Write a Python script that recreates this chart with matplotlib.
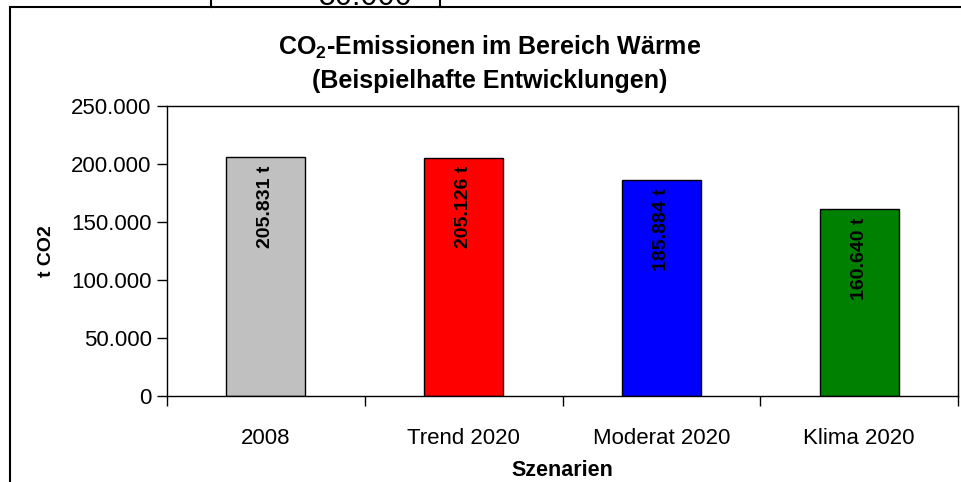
import matplotlib
matplotlib.use("Agg")
import matplotlib.pyplot as plt
from matplotlib.ticker import FuncFormatter, FixedLocator, NullFormatter
from matplotlib.patches import Rectangle
from matplotlib.lines import Line2D

categories = ["2008", "Trend 2020", "Moderat 2020", "Klima 2020"]
values = [205831, 205126, 185884, 160640]
bar_labels = ["205.831 t", "205.126 t", "185.884 t", "160.640 t"]
colors = ["#C0C0C0", "#FF0000", "#0000FF", "#008000"]
yticks = [0, 50000, 100000, 150000, 200000, 250000]

plt.rcParams["font.family"] = ["Liberation Sans", "DejaVu Sans"]
plt.rcParams["mathtext.fontset"] = "custom"
plt.rcParams["mathtext.rm"] = "Liberation Sans"
plt.rcParams["mathtext.bf"] = "Liberation Sans:bold"

W, H = 962, 482
fig = plt.figure(figsize=(W / 100, H / 100), dpi=100)

def fx(px):
    return px / W

def fy(py):
    return 1 - py / H

# outer chart frame (extends beyond right and bottom edges)
fig.patches.append(Rectangle((fx(10), fy(H + 20)), fx(W + 20), fy(7) - fy(H + 20),
                             transform=fig.transFigure, fill=False,
                             edgecolor="black", linewidth=1.5, zorder=0))
# remnant of another chart above
for x in (211, 440):
    fig.lines.append(Line2D([fx(x), fx(x)], [fy(7), 1.05], transform=fig.transFigure,
                            color="black", linewidth=1.5))
fig.text(fx(366), fy(5), "50.000", ha="center", va="baseline", fontsize=22)

ax = fig.add_axes([fx(167), fy(396), fx(958) - fx(167), fy(105.7) - fy(396)])
n = len(categories)
xs = list(range(n))
bars = ax.bar(xs, values, width=0.4, color=colors, edgecolor="black", linewidth=1.0)
for b, lab in zip(bars, bar_labels):
    ax.annotate(lab, xy=(b.get_x() + b.get_width() / 2, b.get_height()),
                xytext=(0, -6), textcoords="offset points",
                rotation=90, ha="center", va="top", fontsize=14, fontweight="bold")

ax.set_xlim(-0.5, n - 0.5)
ax.set_ylim(0, 250000)
ax.set_yticks(yticks)
ax.yaxis.set_major_formatter(FuncFormatter(lambda v, p: f"{int(v):,}".replace(",", ".")))
ax.xaxis.set_major_locator(FixedLocator([i + 0.5 for i in range(-1, n)]))
ax.xaxis.set_major_formatter(NullFormatter())
ax.xaxis.set_minor_locator(FixedLocator(xs))
ax.set_xticklabels(categories, minor=True)
ax.tick_params(axis="x", which="minor", length=0, pad=23, labelsize=16)
ax.tick_params(axis="x", which="major", length=7, direction="out", width=1)
ax.tick_params(axis="y", length=7, direction="out", width=1, labelsize=16, pad=4)
for s in ax.spines.values():
    s.set_linewidth(1.0)

ax.set_ylabel("t CO2", fontsize=14, fontweight="bold", labelpad=12)
ax.set_xlabel("Szenarien", fontsize=15.5, fontweight="bold", labelpad=8)

fig.text(fx(490), fy(47), r"$\mathbf{CO_2}$-Emissionen im Bereich Wärme",
         ha="center", va="center", fontsize=18, fontweight="bold")
fig.text(fx(490), fy(81), "(Beispielhafte Entwicklungen)",
         ha="center", va="center", fontsize=18, fontweight="bold")

fig.savefig("out.png", dpi=100)
